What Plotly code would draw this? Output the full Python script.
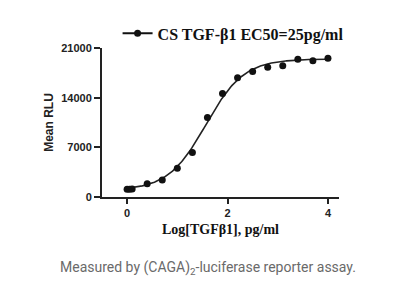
import numpy as np
import plotly.graph_objects as go

# Data
log_conc = [0.0, 0.05, 0.1, 0.4, 0.7, 1.0, 1.3, 1.6, 1.9, 2.2, 2.5, 2.8, 3.1, 3.4, 3.7, 4.0]
mean_rlu = [1080, 1080, 1130, 1880, 2400, 4050, 6260, 11200, 14600, 16800, 17700, 18270, 18500, 19400, 19200, 19550]

# 4PL fit parameters (estimated from the fitted curve in the reference)
fit_bottom = 950
fit_top = 19450
fit_log_ec50 = 1.57
fit_hill = 1.15

series_name = "CS TGF-β1 EC50=25pg/ml"
x_ticks = [0, 2, 4]
y_ticks = [0, 7000, 14000, 21000]

x_fit = np.linspace(min(log_conc), max(log_conc), 200)
y_fit = fit_bottom + (fit_top - fit_bottom) / (1 + 10 ** (fit_hill * (fit_log_ec50 - x_fit)))

fig = go.Figure()
fig.add_trace(go.Scatter(x=x_fit, y=y_fit, mode="lines",
                         line=dict(color="#222222", width=1.6),
                         showlegend=False, hoverinfo="skip"))
fig.add_trace(go.Scatter(x=log_conc, y=mean_rlu, mode="markers",
                         marker=dict(color="#111111", size=7),
                         showlegend=False, cliponaxis=False))
fig.add_trace(go.Scatter(x=[None], y=[None], mode="lines+markers", name=f"<b>{series_name}</b>",
                         marker=dict(color="#111111", size=7),
                         line=dict(color="#111111", width=2)))

axis_font = dict(family="Liberation Sans, Arial", size=11, color="#222222")

fig.update_layout(
    width=414, height=304,
    margin=dict(l=102, r=75, t=48, b=107, autoexpand=False),
    paper_bgcolor="white", plot_bgcolor="white",
    showlegend=True,
    legend=dict(orientation="h", xref="container", yref="container",
                x=0.284, y=0.89, xanchor="left", yanchor="middle",
                font=dict(family="Liberation Serif, Times New Roman", size=16, color="#111111"),
                bgcolor="rgba(0,0,0,0)", itemwidth=30),
    xaxis=dict(range=[-0.5, 4.22], tickvals=x_ticks, ticktext=[f"<b>{v}</b>" for v in x_ticks],
               showline=True, linecolor="#222222", linewidth=2,
               ticks="outside", ticklen=5, tickwidth=2, tickcolor="#222222",
               showgrid=False, zeroline=False,
               tickfont=axis_font,
               title=dict(text="<b>Log[TGFβ1], pg/ml</b>", standoff=6,
                          font=dict(family="Liberation Serif, Times New Roman", size=14, color="#111111"))),
    yaxis=dict(range=[0, 21000], tickvals=y_ticks, ticktext=[f"<b>{v}</b>" for v in y_ticks],
               showline=True, linecolor="#222222", linewidth=2,
               ticks="outside", ticklen=6, tickwidth=2, tickcolor="#222222",
               showgrid=False, zeroline=False,
               tickfont=axis_font,
               title=dict(text="<b>Mean RLU</b>", standoff=5,
                          font=dict(family="Liberation Sans, Arial", size=12, color="#222222"))),
)

fig.add_annotation(text="Measured by (CAGA)<sub>2</sub>-luciferase reporter assay.",
                   xref="paper", yref="paper", x=0.447, y=-0.477, showarrow=False,
                   xanchor="center", yanchor="middle",
                   font=dict(family="Roboto", size=14, color="#6a6a6a"))

fig.write_html("out.html")
